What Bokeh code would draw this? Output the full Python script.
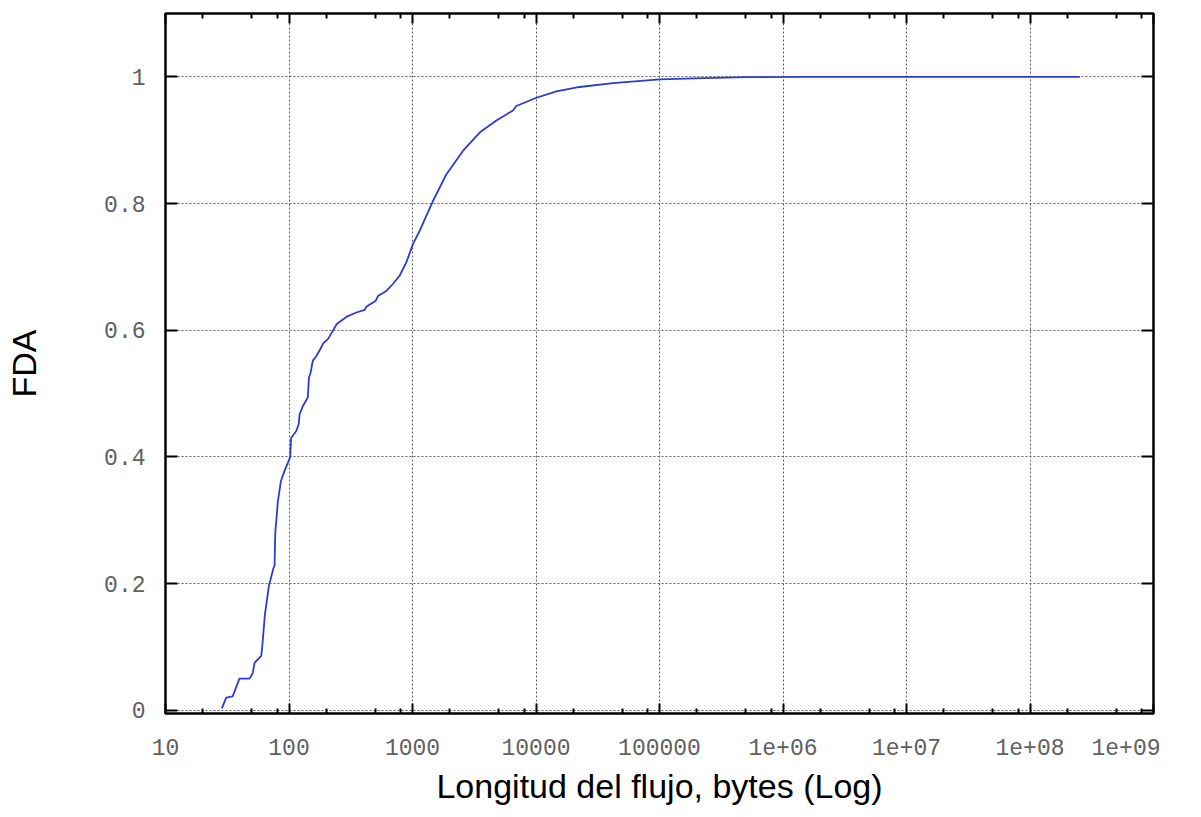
from bokeh.plotting import figure
from bokeh.models import (Range1d, FixedTicker, CustomJSTickFormatter, LogAxis,
                          LinearAxis, ColumnDataSource)
from bokeh.embed import file_html
from bokeh.resources import INLINE

# CDF of flow length (bytes)
flow_bytes = [28.6, 31, 35, 39.7, 47.9, 50.9, 52.6, 59.6, 60.7, 63.7, 68.7, 69.5,
              75, 76.4, 77.4, 81.3, 86, 92, 98, 102.3, 104, 114.5, 120, 121.7,
              129.4, 142, 145, 149.6, 156, 166, 179, 190.5, 206.5, 226.5, 234, 244,
              291, 351, 409, 422, 502, 525, 614, 694, 786, 891, 1008, 1142, 1464,
              1878, 2560, 3498, 4775, 6505, 6930, 10070, 14630, 22580, 42000,
              100500, 225000, 505000, 1.37e6, 2.53e8]
fda = [0.003, 0.02, 0.022, 0.05, 0.05, 0.059, 0.075, 0.086, 0.10, 0.15, 0.196, 0.20,
       0.225, 0.228, 0.28, 0.33, 0.362, 0.378, 0.391, 0.40, 0.43, 0.441, 0.452, 0.467,
       0.480, 0.494, 0.525, 0.533, 0.552, 0.559, 0.570, 0.580, 0.586, 0.599, 0.604, 0.610,
       0.621, 0.628, 0.632, 0.637, 0.646, 0.654, 0.662, 0.673, 0.686, 0.707, 0.736, 0.757, 0.804,
       0.846, 0.883, 0.912, 0.931, 0.947, 0.954, 0.967, 0.977, 0.984, 0.990,
       0.996, 0.998, 0.9995, 1.0, 1.0]

x_major_ticks = [10, 100, 1000, 10000, 100000, 1e6, 1e7, 1e8, 1e9]
x_minor_ticks = [m * d for d in x_major_ticks[:-1] for m in (2, 5, 8)]
y_ticks = [0, 0.2, 0.4, 0.6, 0.8, 1.0]

x_label = "Longitud del flujo, bytes (Log)"
y_label = "FDA"

p = figure(width=1160, height=808, x_axis_type="log",
           x_range=Range1d(10, 1e9), y_range=Range1d(-0.005, 1.1),
           output_backend="svg", toolbar_location=None,
           min_border_left=165, min_border_right=7, min_border_top=13,
           min_border_bottom=95)

p.background_fill_color = "white"
p.border_fill_color = "white"
p.outline_line_color = "black"
p.outline_line_width = 2.5

xt = FixedTicker(ticks=x_major_ticks, minor_ticks=x_minor_ticks)
yt = FixedTicker(ticks=y_ticks)

xfmt = CustomJSTickFormatter(code="""
const e = Math.round(Math.log10(tick));
if (e <= 5) { return String(Math.round(tick)); }
return '1e+' + String(e).padStart(2, '0');
""")
yfmt = CustomJSTickFormatter(code="return String(Math.round(tick*10)/10);")

mono = "Liberation Mono"
sans = "Liberation Sans"
tick_color = "#606060"

xa = p.xaxis[0]
xa.ticker = xt
xa.formatter = xfmt
xa.axis_line_color = None
xa.major_tick_in = 10
xa.major_tick_out = 0
xa.minor_tick_in = 5
xa.minor_tick_out = 0
xa.major_tick_line_width = 2
xa.minor_tick_line_width = 2
xa.major_label_standoff = 25
xa.major_label_text_font = mono
xa.major_label_text_font_size = "23px"
xa.major_label_text_color = tick_color
xa.axis_label = x_label
xa.axis_label_text_font = sans
xa.axis_label_text_font_size = "34px"
xa.axis_label_text_font_style = "normal"
xa.axis_label_text_color = "black"
xa.axis_label_standoff = 9

ya = p.yaxis[0]
ya.ticker = yt
ya.formatter = yfmt
ya.axis_line_color = None
ya.major_tick_in = 12
ya.major_tick_out = 0
ya.major_tick_line_width = 2
ya.minor_tick_line_color = None
ya.major_label_standoff = 20
ya.major_label_text_font = mono
ya.major_label_text_font_size = "23px"
ya.major_label_text_color = tick_color
ya.axis_label = y_label
ya.axis_label_text_font = sans
ya.axis_label_text_font_size = "34px"
ya.axis_label_text_font_style = "normal"
ya.axis_label_text_color = "black"
ya.axis_label_standoff = 58

top = LogAxis(ticker=xt, axis_line_color=None, major_tick_in=10, major_tick_out=0,
              minor_tick_in=5, minor_tick_out=0, major_tick_line_width=2,
              minor_tick_line_width=2, major_label_text_font_size="1px",
              major_label_text_color=None, major_label_standoff=0)
p.add_layout(top, "above")
right = LinearAxis(ticker=yt, axis_line_color=None, major_tick_in=12, major_tick_out=0,
                   major_tick_line_width=2, minor_tick_line_color=None,
                   major_label_text_font_size="1px", major_label_text_color=None,
                   major_label_standoff=0)
p.add_layout(right, "right")

p.xgrid.ticker = FixedTicker(ticks=x_major_ticks)
p.ygrid.ticker = yt
for g in (p.xgrid[0], p.ygrid[0]):
    g.grid_line_color = "#606060"
    g.grid_line_dash = "2 2"
    g.grid_line_width = 1

src = ColumnDataSource(data=dict(x=flow_bytes, y=fda))
p.line("x", "y", source=src, line_color="#2c3cd0", line_width=1.8)

open("out.html", "w").write(file_html(p, INLINE))
